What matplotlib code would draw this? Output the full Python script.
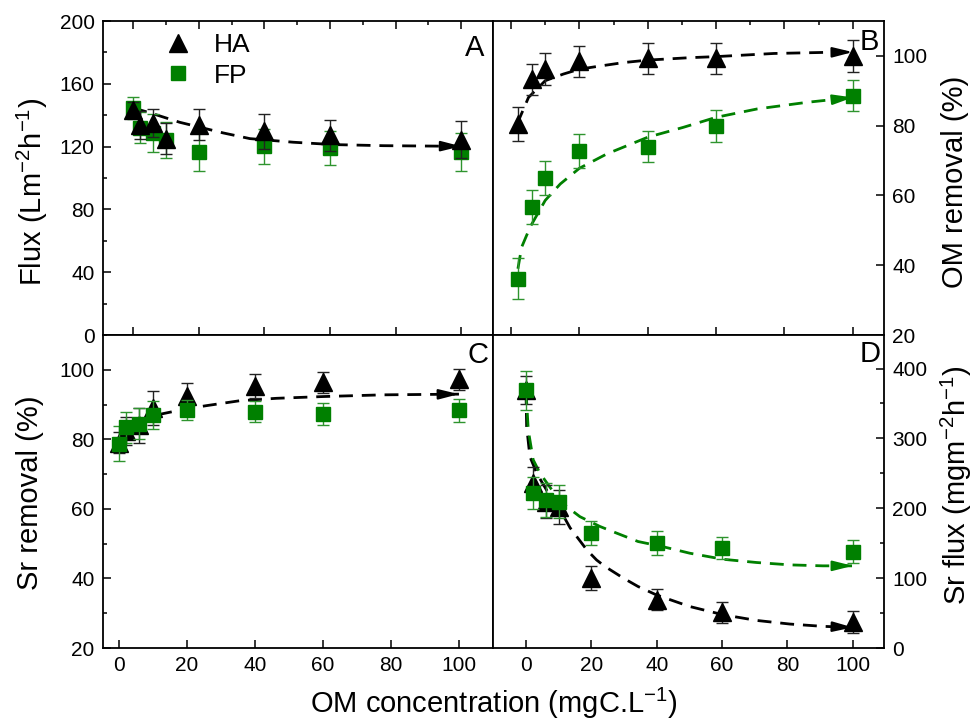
# -*- coding: utf-8 -*-
# Four-panel figure: flux, OM removal, Sr removal and Sr flux vs OM concentration
import numpy as np
import matplotlib
matplotlib.use("Agg")
import matplotlib.pyplot as plt
from matplotlib.lines import Line2D
from matplotlib.ticker import MultipleLocator

plt.rcParams["font.family"] = ["Liberation Sans", "DejaVu Sans"]
plt.rcParams["mathtext.fontset"] = "custom"
plt.rcParams["mathtext.rm"] = "Liberation Sans"
plt.rcParams["mathtext.default"] = "regular"

# *** Data ***#
conc = [0, 2, 6, 10, 20, 40, 60, 100]
conc_b = [2, 6, 10, 20, 40, 60, 100]

# A - flux
flux_ha = [143.6, 134, 135, 125, 134, 129.8, 127.2, 124.5]
flux_ha_err = [5, 9, 9, 10, 10, 11, 10, 12]
flux_fp = [144.7, 132, 128.7, 124.5, 116.6, 120.2, 119, 116.6]
flux_fp_err = [7, 10, 12, 11.5, 12, 11, 11, 12]
fitA_ha_x = [0, 6.1, 14.2, 27.5, 35.6, 48.8, 61, 76.3, 100]
fitA_ha_y = [144.7, 140.9, 135.5, 128.7, 125.1, 122.8, 121.3, 120.6, 120.2]

# B - OM removal
om_ha = [80.5, 93.3, 96.2, 98.4, 99.3, 99.3, 100.0]
om_ha_err = [5, 4.5, 4.5, 4.5, 4.5, 4.5, 4.5]
om_fp = [36.2, 56.7, 65.0, 72.7, 74.0, 79.9, 88.6]
om_fp_err = [5.9, 4.9, 5, 4.9, 4.4, 4.5, 4.5]
fitB_ha_x = [2, 2.6, 5.1, 10, 15.3, 20, 26, 33, 40, 52.4, 60, 76.9, 91.5, 100]
fitB_ha_y = [80.5, 82.4, 88.1, 92.9, 94.8, 96.2, 97.1, 98.1, 98.8, 99.5, 99.8, 100.7, 101, 101.1]
fitB_fp_x = [2, 3.1, 5.6, 10, 14.4, 20, 28, 40, 50.3, 60, 72, 86.6, 100]
fitB_fp_y = [39, 45.2, 51, 58.6, 63.3, 67.8, 71.9, 76.7, 79.5, 82.4, 84.8, 86.7, 88.1]

# C - Sr removal
sr_ha = [79, 82.5, 84, 89, 92.6, 95.4, 96.4, 97.3]
sr_ha_err = [3, 4, 5, 5, 3.5, 3.5, 3, 3]
sr_fp = [78.8, 83.5, 84.5, 86.9, 88.5, 88.0, 87.3, 88.3]
sr_fp_err = [5, 4.5, 4.5, 4, 2.8, 3, 3.2, 3.3]
fitC_ha_x = [0, 3.7, 9.1, 12.5, 19.9, 25.8, 35.5, 46.3, 59.8, 77.7, 100]
fitC_ha_y = [80.5, 82.6, 86.2, 87.3, 88.8, 89.7, 91.1, 91.8, 92.3, 92.8, 93.0]

# D - Sr flux
srf_ha = [369, 235.7, 209.5, 202, 100, 69, 51, 37]
srf_ha_err = [20, 23, 24, 24, 17, 15, 15, 16]
srf_fp = [369, 221.4, 212, 209.5, 165, 150, 143, 138]
srf_fp_err = [28, 23, 24, 24, 17, 17, 15.5, 16.7]
fitD_ha_x = [0, 0.2, 1.2, 3.3, 6.8, 10.4, 13.5, 18.6, 21.6, 24.2, 29.8, 34.3, 39.9,
             50, 60.3, 70.5, 80.7, 90.8, 100]
fitD_ha_y = [369, 317, 274, 250, 222, 198, 172, 140.5, 126, 116.6, 100, 88, 76,
             59.5, 47.6, 39.5, 34.3, 31, 29.5]
fitD_fp_x = [0, 0.7, 2.2, 4.3, 7.9, 12.4, 16.5, 22.6, 27.7, 34.3, 41.9, 50.1, 60.3,
             70.5, 80.7, 90.8, 100]
fitD_fp_y = [369, 312, 269.5, 250, 226.5, 202.6, 188, 174, 164.5, 152.4, 145, 135.7,
             127, 122.4, 119, 117.6, 117.6]

GREEN = "#008000"
DPI = 100


# *** Functions ***#
def points(ax, x, y, err, kind, z):
    if kind == "HA":
        ax.errorbar(x, y, yerr=err, fmt="none", ecolor="#222222", elinewidth=1.0,
                    capsize=4.2, capthick=1.0, zorder=z)
        ax.plot(x, y, ls="none", marker="^", ms=13, color="black", zorder=z + 0.5)
    else:
        ax.errorbar(x, y, yerr=err, fmt="none", ecolor="#2e942e", elinewidth=1.0,
                    capsize=4.2, capthick=1.0, zorder=z)
        ax.plot(x, y, ls="none", marker="s", ms=10, color=GREEN, zorder=z + 0.5)


def fit_line(ax, fx, fy, color):
    ax.plot(fx, fy, ls=(0, (5, 3.2)), lw=2.0, color=color, zorder=3)
    # arrow head at the end of the curve
    p1 = ax.transData.transform((fx[-2], fy[-2]))
    p2 = ax.transData.transform((fx[-1], fy[-1]))
    d = (p2 - p1) / np.hypot(*(p2 - p1))
    off = -d * 16 * 72 / DPI
    ax.annotate("", xy=(fx[-1], fy[-1]), xytext=(off[0], off[1]),
                textcoords="offset points",
                arrowprops=dict(arrowstyle="-|>,head_length=1.2,head_width=0.3",
                                color=color, lw=1.6, shrinkA=0, shrinkB=0,
                                mutation_scale=10), zorder=3)


def style(ax, side, top_ticks, ymaj, ymin):
    for s in ax.spines.values():
        s.set_linewidth(1.3)
    ax.tick_params(which="both", direction="in", width=1.1, labelsize=15, pad=6)
    ax.tick_params(which="major", length=5.5)
    ax.tick_params(which="minor", length=3)
    ax.xaxis.set_major_locator(MultipleLocator(20))
    ax.xaxis.set_minor_locator(MultipleLocator(10))
    ax.yaxis.set_major_locator(MultipleLocator(ymaj))
    if ymin:
        ax.yaxis.set_minor_locator(MultipleLocator(ymin))
    else:
        ax.yaxis.set_minor_locator(matplotlib.ticker.NullLocator())
    ax.tick_params(axis="x", which="minor", bottom=False, top=top_ticks)
    ax.tick_params(axis="x", which="major", top=top_ticks)
    if side == "left":
        ax.tick_params(axis="y", which="both", left=True, right=False,
                       labelleft=True, labelright=False)
    else:
        ax.tick_params(axis="y", which="both", left=False, right=True,
                       labelleft=False, labelright=True)


# *** Figure ***#
fig = plt.figure(figsize=(9.75, 7.25), dpi=DPI)
axA = fig.add_axes([0.1056, 0.5379, 0.4, 0.4331])
axB = fig.add_axes([0.5056, 0.5379, 0.4010, 0.4331])
axC = fig.add_axes([0.1056, 0.1062, 0.4, 0.4317])
axD = fig.add_axes([0.5056, 0.1062, 0.4010, 0.4317])

axA.set_xlim(-9.2, 109.7)
axA.set_ylim(0, 200)
axB.set_xlim(-5.3, 109.1)
axB.set_ylim(20, 110)
axC.set_xlim(-4.7, 110)
axC.set_ylim(20, 110)
axD.set_xlim(-10.1, 109.5)
axD.set_ylim(0, 448)

style(axA, "left", True, 40, 20)
style(axB, "right", True, 20, None)
style(axC, "left", False, 20, 10)
style(axD, "right", False, 100, 50)
axA.tick_params(labelbottom=False)
axB.tick_params(labelbottom=False)

# A
points(axA, conc, flux_fp, flux_fp_err, "FP", 4)
fit_line(axA, fitA_ha_x, fitA_ha_y, "black")
points(axA, conc, flux_ha, flux_ha_err, "HA", 5)

# B
points(axB, conc_b, om_ha, om_ha_err, "HA", 4)
points(axB, conc_b, om_fp, om_fp_err, "FP", 5)
fit_line(axB, fitB_ha_x, fitB_ha_y, "black")
fit_line(axB, fitB_fp_x, fitB_fp_y, GREEN)

# C
points(axC, conc, sr_ha, sr_ha_err, "HA", 4)
fit_line(axC, fitC_ha_x, fitC_ha_y, "black")
points(axC, conc, sr_fp, sr_fp_err, "FP", 5)

# D
points(axD, conc, srf_ha, srf_ha_err, "HA", 4)
points(axD, conc, srf_fp, srf_fp_err, "FP", 5)
fit_line(axD, fitD_ha_x, fitD_ha_y, "black")
fit_line(axD, fitD_fp_x, fitD_fp_y, GREEN)

# panel letters
for ax, letter, px, py in [(axA, "A", 0.954, 0.889), (axB, "B", 0.962, 0.908),
                           (axC, "C", 0.962, 0.911), (axD, "D", 0.964, 0.914)]:
    ax.text(px, py, letter, transform=ax.transAxes, fontsize=21,
            ha="center", va="baseline", zorder=10)

# legend
handles = [Line2D([], [], ls="none", marker="^", ms=13, color="black"),
           Line2D([], [], ls="none", marker="s", ms=10, color=GREEN)]
axA.legend(handles, ["HA", "FP"], loc="upper left", bbox_to_anchor=(0.159, 0.962),
           frameon=False, fontsize=19, handlelength=1.0, handletextpad=0.85,
           labelspacing=0.25, borderpad=0, borderaxespad=0)

# axis labels
fig.text(0.033, 0.735, "Flux (Lm$^{-2}$h$^{-1}$)", rotation=90, fontsize=21,
         ha="center", va="center")
fig.text(0.031, 0.32, "Sr removal (%)", rotation=90, fontsize=21,
         ha="center", va="center")
fig.text(0.979, 0.749, "OM removal (%)", rotation=90, fontsize=21,
         ha="center", va="center")
fig.text(0.981, 0.331, "Sr flux (mgm$^{-2}$h$^{-1}$)", rotation=90, fontsize=21,
         ha="center", va="center")
fig.text(0.507, 0.03, "OM concentration (mgC.L$^{-1}$)", fontsize=21,
         ha="center", va="center")

fig.savefig("out.png", dpi=DPI)
